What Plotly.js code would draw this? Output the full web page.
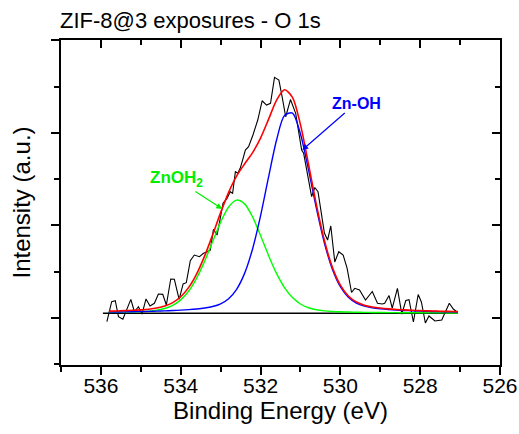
<!DOCTYPE html>
<html>
<head>
<meta charset="utf-8">
<script src="https://cdn.plot.ly/plotly-3.0.1.min.js"></script>
<style>html,body{margin:0;padding:0;background:#fff;}#chart{width:519px;height:434px;}</style>
</head>
<body>
<div id="chart"></div>
<script>
// Measured spectrum (binding energy in eV, intensity in arbitrary units)
var dataEV = [535.85,535.73,535.64,535.56,535.45,535.25,535.16,535.06,534.97,534.87,534.77,534.66,534.56,534.45,534.36,534.25,534.16,534.04,533.94,533.86,533.76,533.66,533.53,533.43,533.33,533.26,533.18,533.09,533.01,532.94,532.84,532.76,532.70,532.63,532.57,532.51,532.45,532.38,532.30,532.19,532.07,531.96,531.85,531.75,531.65,531.54,531.46,531.37,531.25,531.12,530.97,530.92,530.72,530.64,530.56,530.40,530.32,530.24,530.14,530.04,529.93,529.83,529.72,529.64,529.52,529.37,529.20,529.07,528.95,528.89,528.78,528.70,528.57,528.46,528.36,528.28,528.17,528.05,527.97,527.87,527.78,527.63,527.46,527.27,527.17,527.06];
var dataInt = [-0.091,0.125,0.136,-0.037,-0.065,0.151,0.017,0.071,-0.008,0.155,0.079,0.108,0.209,0.205,0.090,0.371,0.368,0.151,0.317,0.331,0.569,0.630,0.612,0.649,0.666,0.684,0.908,0.846,1.027,1.189,1.243,1.315,1.297,1.531,1.514,1.568,1.657,1.765,1.801,1.928,2.090,2.298,2.252,2.270,2.551,2.522,2.342,2.125,2.311,2.162,1.765,1.730,1.261,1.360,1.315,0.868,0.792,0.944,0.555,0.666,0.630,0.486,0.225,0.270,0.252,0.144,0.236,0.108,0.101,0.108,0.192,0.057,0.270,-0.008,0.138,0.147,-0.094,0.203,0.122,-0.105,-0.029,-0.083,-0.072,0.108,0.046,0.009];

// Fitted components
var fitEV = [535.8,535.6,535.4,535.2,535.0,534.8,534.6,534.4,534.2,534.0,533.8,533.6,533.4,533.2,533.0,532.8,532.6,532.4,532.2,532.0,531.8,531.6,531.4,531.2,531.0,530.8,530.6,530.4,530.2,530.0,529.8,529.6,529.4,529.2,529.0,528.8,528.6,528.4,528.2,528.0,527.8,527.6,527.4,527.2,527.06];
var fitZnOH2 = [0.0102,0.0115,0.0131,0.0153,0.0186,0.0239,0.0336,0.0519,0.0858,0.1452,0.2407,0.3806,0.5639,0.7759,0.9857,1.1499,1.2238,1.1832,1.0419,0.8408,0.6255,0.4313,0.2779,0.1697,0.1006,0.0600,0.0379,0.0262,0.0199,0.0162,0.0137,0.0119,0.0105,0.0094,0.0084,0.0076,0.0069,0.0063,0.0057,0.0052,0.0048,0.0044,0.0041,0.0038,0.0037];
var fitZnOH = [0.0128,0.0140,0.0153,0.0169,0.0187,0.0208,0.0233,0.0262,0.0297,0.0340,0.0394,0.0464,0.0566,0.0731,0.1027,0.1581,0.2595,0.4318,0.6959,1.0535,1.4712,1.8712,2.1384,2.1653,1.9394,1.5560,1.1340,0.7604,0.4768,0.2875,0.1739,0.1112,0.0776,0.0592,0.0482,0.0406,0.0349,0.0305,0.0269,0.0238,0.0213,0.0191,0.0172,0.0156,0.0146];
var fitEnvelope = [0.0230,0.0255,0.0284,0.0322,0.0373,0.0447,0.0569,0.0781,0.1155,0.1792,0.2801,0.4270,0.6205,0.8490,1.0884,1.3080,1.4833,1.6150,1.7378,1.8943,2.0967,2.3025,2.4163,2.3350,2.0400,1.6160,1.1719,0.7866,0.4967,0.3037,0.1876,0.1231,0.0881,0.0686,0.0566,0.0482,0.0418,0.0368,0.0326,0.0290,0.0261,0.0235,0.0213,0.0194,0.0183];

// Background line
var baseEV = [535.95, 527.06];
var baseInt = [0, 0];

// Tick values on the energy axis
var xTickLabels = ['536','534','532','530','528','526'];
var xTickVals = [536,534,532,530,528,526];

var FONT = 'Arial, "Liberation Sans", Helvetica, sans-serif';

var traces = [
  {x: baseEV, y: baseInt, mode: 'lines', line: {color: '#000000', width: 1.5}, hoverinfo: 'skip', showlegend: false},
  {x: dataEV, y: dataInt, mode: 'lines', line: {color: '#000000', width: 1.1}, name: 'Data', showlegend: false},
  {x: fitEV, y: fitZnOH2, mode: 'lines', line: {color: '#00ff00', width: 1.4, shape: 'spline', smoothing: 0.8}, name: 'ZnOH2', showlegend: false},
  {x: fitEV, y: fitZnOH, mode: 'lines', line: {color: '#0000ff', width: 1.4, shape: 'spline', smoothing: 0.8}, name: 'Zn-OH', showlegend: false},
  {x: fitEV, y: fitEnvelope, mode: 'lines', line: {color: '#ff0000', width: 1.6, shape: 'spline', smoothing: 0.8}, name: 'Envelope', showlegend: false},
  {x: [], y: [], xaxis: 'x2', yaxis: 'y2', mode: 'lines', showlegend: false, hoverinfo: 'skip'}
];

var xr = [537, 526];
var yr = [-0.559, 2.955];

var layout = {
  width: 519, height: 434,
  margin: {l: 61, r: 19, t: 40, b: 69, pad: 0},
  paper_bgcolor: '#ffffff', plot_bgcolor: '#ffffff',
  font: {family: FONT, color: '#000000'},
  showlegend: false,
  title: {text: 'ZIF-8@3 exposures - O 1s', font: {family: FONT, size: 22, color: '#000000'},
          x: 60/519, xref: 'container', xanchor: 'left', y: 1 - 20/434, yref: 'container', yanchor: 'middle'},
  xaxis: {
    range: xr, tickmode: 'array', tickvals: xTickVals, ticktext: xTickLabels,
    ticks: 'outside', ticklen: 8, tickwidth: 2, tickcolor: '#000',
    ticklabelstandoff: -7,
    showline: true, linewidth: 2, linecolor: '#000', mirror: true,
    showgrid: false, zeroline: false,
    tickfont: {family: FONT, size: 21, color: '#000'},
    minor: {ticks: 'outside', ticklen: 5, tickwidth: 2, tickcolor: '#000', dtick: 1, tick0: 527, showgrid: false},
    title: {text: 'Binding Energy (eV)', font: {family: FONT, size: 24, color: '#000'}, standoff: 6}
  },
  yaxis: {
    range: yr, tickmode: 'linear', tick0: -0.05, dtick: 1, showticklabels: false,
    ticks: 'outside', ticklen: 8, tickwidth: 2, tickcolor: '#000',
    showline: true, linewidth: 2, linecolor: '#000', mirror: true,
    showgrid: false, zeroline: false,
    minor: {ticks: 'outside', ticklen: 5, tickwidth: 2, tickcolor: '#000', dtick: 0.5, tick0: -0.05, showgrid: false},
    title: {text: 'Intensity (a.u.)', font: {family: FONT, size: 24, color: '#000'}, standoff: 14}
  },
  xaxis2: {
    overlaying: 'x', side: 'top', range: xr, tickmode: 'linear', tick0: 526, dtick: 2,
    ticks: 'inside', ticklen: 8, tickwidth: 2, tickcolor: '#000', showticklabels: false,
    showline: false, showgrid: false, zeroline: false,
    minor: {ticks: 'inside', ticklen: 5, tickwidth: 2, tickcolor: '#000', dtick: 1, tick0: 527, showgrid: false}
  },
  yaxis2: {
    overlaying: 'y', side: 'right', range: yr, tickmode: 'linear', tick0: -0.05, dtick: 1,
    ticks: 'inside', ticklen: 8, tickwidth: 2, tickcolor: '#000', showticklabels: false,
    showline: false, showgrid: false, zeroline: false,
    minor: {ticks: 'inside', ticklen: 5, tickwidth: 2, tickcolor: '#000', dtick: 0.5, tick0: -0.05, showgrid: false}
  },
  annotations: [
    {x: 532.96, y: 1.128, xref: 'x', yref: 'y', ax: -46, ay: -30,
     text: '<b>ZnOH<sub>2</sub></b>', font: {family: FONT, size: 17, color: '#00ee00'},
     showarrow: true, arrowhead: 2, arrowsize: 1, arrowwidth: 1.2, arrowcolor: '#00ee00', standoff: 0},
    {x: 530.955, y: 1.765, xref: 'x', yref: 'y', ax: 54, ay: -47,
     text: '<b>Zn-OH</b>', font: {family: FONT, size: 16, color: '#0000ff'},
     showarrow: true, arrowhead: 2, arrowsize: 1, arrowwidth: 1.2, arrowcolor: '#0000ff', standoff: 0}
  ]
};

Plotly.newPlot('chart', traces, layout, {displayModeBar: false, staticPlot: true});
</script>
</body>
</html>
